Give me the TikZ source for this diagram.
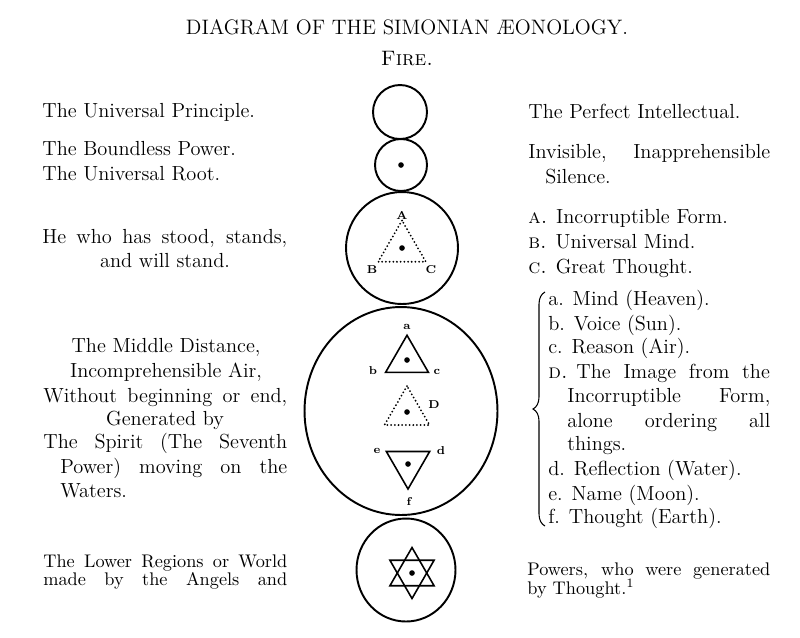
\documentclass[tikz,border=0pt]{standalone}
\usepackage{fontspec}
\usetikzlibrary{shapes.geometric}
\usetikzlibrary{decorations.pathreplacing}
\usetikzlibrary{positioning}

\tikzset{
  ring/.style={circle, draw, line width=1.1pt, inner sep=0pt},
  oval/.style={ellipse, draw, line width=1.1pt, inner sep=0pt},
  tri/.style={regular polygon, regular polygon sides=3, draw, line width=0.9pt, inner sep=0pt},
  dottri/.style={tri, line cap=round, dash pattern=on 0pt off 2.1pt, line width=1.15pt},
  seed/.style={circle, fill, inner sep=0pt, minimum size=3.2pt},
  lbl/.style={font=\bfseries\fontsize{6.5}{7}\selectfont, inner sep=0pt},
  txt/.style={anchor=base west, inner sep=0pt, font=\fontsize{11.6}{13.9}\selectfont},
  ctxt/.style={txt, anchor=base},
  lowtxt/.style={txt, font=\fontsize{10.4}{10}\selectfont},
}

\begin{document}
\begin{tikzpicture}[x=0.02cm, y=-0.02cm]
        \useasboundingbox (0,0) rectangle (800,637);

        % Heading
        \node[ctxt, font=\fontsize{11.9}{13}\selectfont] (title) at (407,34) {DIAGRAM OF THE SIMONIAN \AE ONOLOGY.};
        \node[ctxt, font=\fontsize{11.9}{13}\selectfont] (fire) at (407,65) {\textsc{Fire.}};

        % The column of circles
        \node[ring, minimum size=1.08cm] (principle) at (400,112) {};
        \node[ring, minimum size=1.04cm] (root) at (401,165) {};
        \node[seed] at (root.center) {};
        \node[ring, minimum size=2.24cm] (stood) at (402,248) {};
        \node[oval, minimum width=3.86cm, minimum height=4.16cm] (middle) at (401,411) {};
        \node[ring, minimum width=1.98cm, minimum height=2.06cm, ellipse] (lower) at (406,570) {};

        % Triangle A B C (dotted)
        \node[dottri, minimum size=1.1cm] (abc) at (402,248) {};
        \node[seed] at (abc.center) {};
        \node[lbl] (lA) at (402,215) {A};
        \node[lbl] (lB) at (372,270) {B};
        \node[lbl] (lC) at (431,270) {C};

        % Triangle a b c
        \node[tri, minimum size=0.99cm] (tabc) at (407,360) {};
        \node[seed] at (tabc.center) {};
        \node[lbl] (la) at (407,327) {a};
        \node[lbl] (lb) at (373,371) {b};
        \node[lbl] (lc) at (437,372) {c};

        % Triangle D (dotted)
        \node[dottri, minimum size=1.04cm] (tD) at (407,412) {};
        \node[seed] at (tD.center) {};
        \node[lbl] (lD) at (434,405) {D};

        % Triangle d e f, point down
        \node[tri, shape border rotate=180, minimum size=1.0cm] (tdef) at (408,464) {};
        \node[seed] at (tdef.center) {};
        \node[lbl] (le) at (377,451) {e};
        \node[lbl] (ld) at (441,451) {d};
        \node[lbl] (lf) at (409,501) {f};

        % Star in the lower circle
        \node[tri, minimum size=1.02cm] (starup) at (412,573) {};
        \node[tri, shape border rotate=180, minimum size=1.02cm] (stardown) at (412,573) {};
        \node[seed] at (starup.center) {};

        % Left column
        \node[txt] (t1) at (42,117) {The Universal Principle.};
        \node[txt] (t2) at (42,155) {The Boundless Power.};
        \node[txt] (t3) at (42,180) {The Universal Root.};
        \node[txt] (t4) at (42,243) {\makebox[4.9cm][s]{He who has stood, stands,}};
        \node[ctxt] (t5) at (165,267) {and will stand.};
        \node[ctxt] (t6) at (166,352) {The Middle Distance,};
        \node[ctxt] (t7) at (166,377) {Incomprehensible Air,};
        \node[txt] (t8) at (43,402) {\makebox[4.88cm][s]{Without beginning or end,}};
        \node[ctxt] (t9) at (165,425) {Generated by};
        \node[txt] (t10) at (43,448) {\makebox[4.88cm][s]{The Spirit (The Seventh}};
        \node[txt] (t11) at (60,473) {\makebox[4.54cm][s]{Power) moving on the}};
        \node[txt] (t12) at (60,497) {Waters.};
        \node[lowtxt] (t13) at (43,567) {\makebox[4.88cm][s]{The Lower Regions or World}};
        \node[lowtxt] (t14) at (43,585) {\makebox[4.88cm][s]{made by the Angels and}};

        % Right column
        \node[txt] (r1) at (528,118) {The Perfect Intellectual.};
        \node[txt] (r2) at (528,158) {\makebox[4.84cm][s]{Invisible, Inapprehensible}};
        \node[txt] (r3) at (545,183) {Silence.};
        \node[txt] (r4) at (528,223) {\textsc{a.} Incorruptible Form.};
        \node[txt] (r5) at (528,248) {\textsc{b.} Universal Mind.};
        \node[txt] (r6) at (528,273) {\textsc{c.} Great Thought.};
        \node[txt] (r7) at (548,305) {a. Mind (Heaven).};
        \node[txt] (r8) at (548,330) {b. Voice (Sun).};
        \node[txt] (r9) at (548,353) {c. Reason (Air).};
        \node[txt] (r10) at (548,378) {\textsc{d.} \makebox[3.87cm][s]{The Image from the}};
        \node[txt] (r11) at (567,402) {\makebox[4.06cm][s]{Incorruptible Form,}};
        \node[txt] (r12) at (567,427) {\makebox[4.06cm][s]{alone ordering all}};
        \node[txt] (r13) at (567,450) {things.};
        \node[txt] (r14) at (548,475) {d. Reflection (Water).};
        \node[txt] (r15) at (548,500) {e. Name (Moon).};
        \node[txt] (r16) at (548,523) {f. Thought (Earth).};
        \node[lowtxt] (r17) at (527,575) {\makebox[4.86cm][s]{Powers, who were generated}};
        \node[lowtxt] (r18) at (527,594) {by Thought.\textsuperscript{1}};

        % Brace gathering a to f
        \coordinate (braceBot) at (545,526);
        \coordinate (braceTop) at (545,292);
        \draw[line width=0.6pt, decorate, decoration={brace, amplitude=0.24cm}] (braceBot) -- (braceTop);
\end{tikzpicture}
\end{document}
